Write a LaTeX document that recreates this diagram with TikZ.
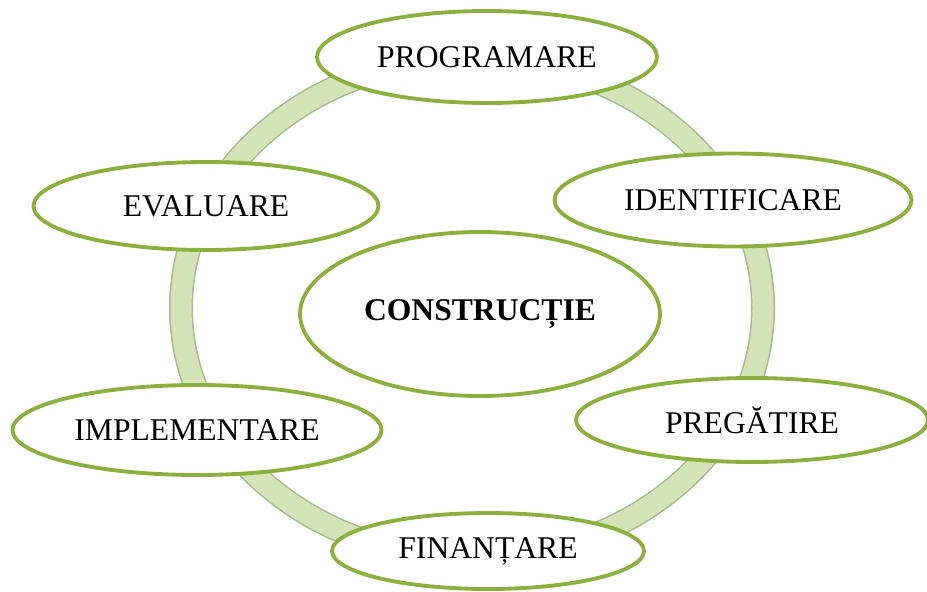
\documentclass[tikz,border=0pt]{standalone}
\usepackage{fontspec}
\setmainfont{Liberation Serif}
\usepackage{tikz}
\usetikzlibrary{shapes.geometric}
\definecolor{stageline}{RGB}{140,176,62}
\definecolor{ringfill}{RGB}{212,227,184}
\definecolor{ringedge}{RGB}{168,186,138}
\tikzstyle{every node}=[font=\fontsize{18}{21}\selectfont]
\tikzstyle{stage}=[ellipse,draw=stageline,line width=2.2pt,fill=white,inner sep=0pt]
\tikzstyle{ring}=[line width=0.48cm,ringedge]

\begin{document}
\begin{tikzpicture}[x=0.02cm,y=-0.02cm]
\useasboundingbox (0,0) rectangle (927,592);

% ring behind the stages
\draw [ring] (472,308) ellipse [x radius=291, y radius=250];
\draw [ring,line width=0.42cm,ringfill] (472,308) ellipse [x radius=291, y radius=250];

 \node [stage,minimum width=6.8cm,minimum height=1.84cm] (prog) at (487,57) {PROGRAMARE};
 \node [stage,minimum width=7.14cm,minimum height=1.86cm] (ident) at (733,200) {IDENTIFICARE};
 \node [stage,minimum width=7.04cm,minimum height=1.68cm] (preg) at (752,420) {PREGĂTIRE};
 \node [stage,minimum width=6.24cm,minimum height=1.52cm] (fin) at (488,551) {FINANȚARE};
 \node [stage,minimum width=7.38cm,minimum height=1.8cm] (impl) at (197,430) {IMPLEMENTARE};
 \node [stage,minimum width=6.9cm,minimum height=1.76cm] (eval) at (206,206) {EVALUARE};
 \node [stage,minimum width=7.2cm,minimum height=3.28cm,font=\fontsize{18}{21}\selectfont\bfseries] (constr) at (480,314) {CONSTRUCȚIE};
\end{tikzpicture}
\end{document}
